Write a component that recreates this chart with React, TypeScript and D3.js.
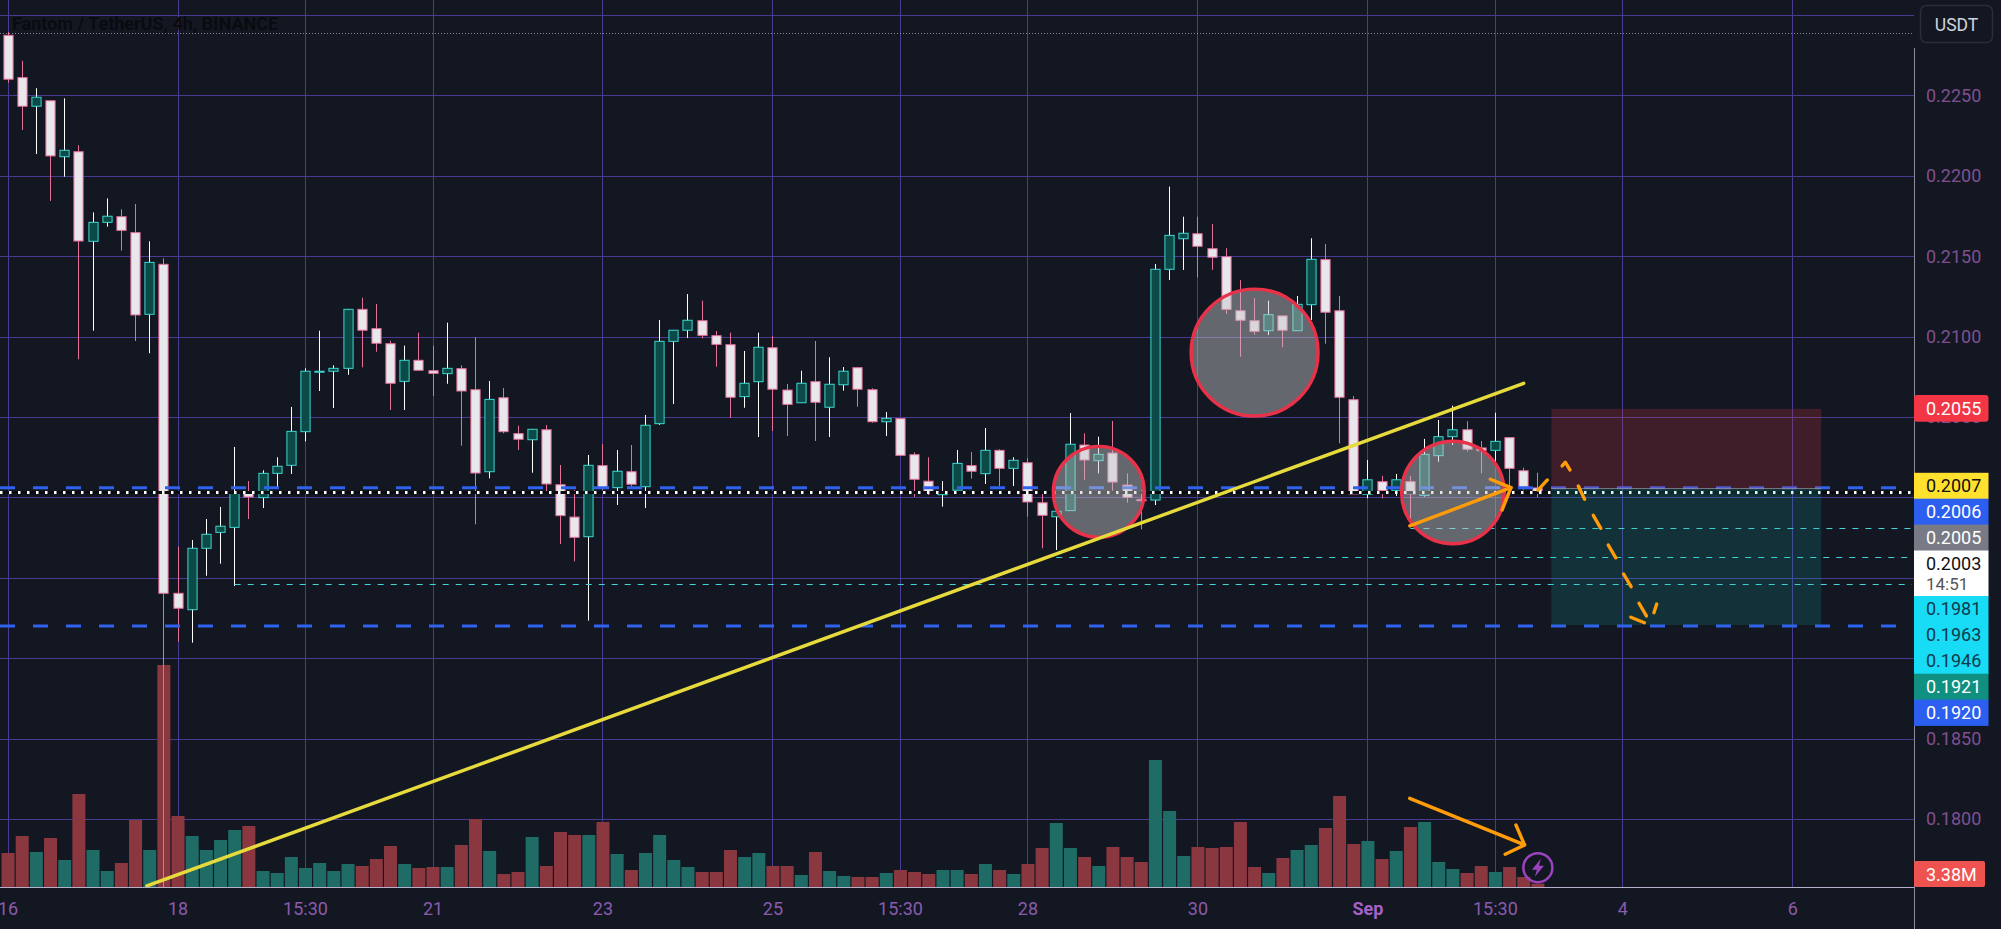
import React from 'react';
import * as d3 from 'd3';

// OHLC, one entry per 4h bar
const opens = [
  0.22873, 0.2261, 0.22432, 0.22466, 0.22118, 0.22149, 0.21592, 0.2171, 0.21745, 0.21646,
  0.21138, 0.21449, 0.19403, 0.19301, 0.19683, 0.19782, 0.19813, 0.20031, 0.19998, 0.20149,
  0.20199, 0.20408, 0.20779, 0.20784, 0.20802, 0.21169, 0.21049, 0.20955, 0.20721, 0.20852,
  0.20787, 0.20769, 0.208, 0.20669, 0.20159, 0.20619, 0.20396, 0.20358, 0.2042, 0.20078,
  0.19877, 0.19755, 0.20197, 0.2006, 0.20159, 0.20066, 0.20458, 0.2097, 0.21039, 0.21098,
  0.21005, 0.20949, 0.20626, 0.20719, 0.2093, 0.20667, 0.20588, 0.20719, 0.2056, 0.207,
  0.20806, 0.20669, 0.2047, 0.20489, 0.20265, 0.201, 0.20016, 0.20044, 0.20197, 0.20147,
  0.20292, 0.2018, 0.20215, 0.19966, 0.19879, 0.19917, 0.20325, 0.20228, 0.20275, 0.20076,
  0.19985, 0.19983, 0.21418, 0.21608, 0.21639, 0.21546, 0.21496, 0.2116, 0.21098, 0.21036,
  0.21128, 0.21036, 0.21198, 0.21478, 0.2116, 0.20607, 0.20019, 0.20097, 0.20041, 0.20097,
  0.20012, 0.20259, 0.20377, 0.2042, 0.20307, 0.20292, 0.20371, 0.20165, 0.20058,
];
const closes = [
  0.226, 0.22432, 0.22488, 0.22123, 0.22158, 0.21594, 0.2171, 0.21748, 0.2166, 0.21134,
  0.21461, 0.19403, 0.1931, 0.19683, 0.1977, 0.1982, 0.20031, 0.20002, 0.20149, 0.20193,
  0.2041, 0.20784, 0.20784, 0.20802, 0.21169, 0.21039, 0.20958, 0.20709, 0.20852, 0.2079,
  0.20771, 0.20802, 0.20661, 0.20151, 0.20609, 0.20408, 0.20361, 0.20423, 0.20083, 0.19886,
  0.19751, 0.20199, 0.2006, 0.20162, 0.20081, 0.20448, 0.2097, 0.21039, 0.21101, 0.21007,
  0.20951, 0.20622, 0.20709, 0.20933, 0.20672, 0.20578, 0.20709, 0.20591, 0.20703, 0.20784,
  0.20672, 0.2047, 0.20491, 0.20261, 0.20112, 0.20035, 0.20031, 0.20211, 0.20162, 0.20292,
  0.2018, 0.2023, 0.19971, 0.19888, 0.19913, 0.2033, 0.20232, 0.20267, 0.20095, 0.2,
  0.19981, 0.21418, 0.21629, 0.21642, 0.21561, 0.21493, 0.21169, 0.21101, 0.21032, 0.21136,
  0.21039, 0.212, 0.2148, 0.21151, 0.20622, 0.20021, 0.20109, 0.20041, 0.20109, 0.20021,
  0.20267, 0.20377, 0.2042, 0.20299, 0.2029, 0.20348, 0.2018, 0.20062, 0.20033,
];
const highs = [
  0.22894, 0.22715, 0.22544, 0.22466, 0.22481, 0.22189, 0.21772, 0.21859, 0.21791, 0.21824,
  0.21592, 0.21486, 0.19693, 0.19734, 0.19865, 0.1994, 0.20313, 0.20101, 0.20168, 0.20249,
  0.20562, 0.20802, 0.21036, 0.20821, 0.21169, 0.21241, 0.21202, 0.20974, 0.20943, 0.21024,
  0.20943, 0.21086, 0.20821, 0.20995, 0.20723, 0.2068, 0.20445, 0.20423, 0.2045, 0.20201,
  0.20045, 0.20263, 0.20331, 0.20294, 0.20325, 0.20512, 0.21103, 0.21039, 0.21264, 0.21223,
  0.21034, 0.21024, 0.2091, 0.21024, 0.21003, 0.20705, 0.20787, 0.20972, 0.20871, 0.2081,
  0.20806, 0.20678, 0.2053, 0.20489, 0.2028, 0.20249, 0.20101, 0.20294, 0.20282, 0.20431,
  0.20299, 0.20249, 0.20243, 0.20025, 0.19913, 0.20524, 0.20398, 0.20377, 0.20475, 0.20149,
  0.20045, 0.21451, 0.21932, 0.21745, 0.21745, 0.217, 0.21549, 0.21351, 0.21238, 0.21223,
  0.21128, 0.21252, 0.21611, 0.21575, 0.21252, 0.2063, 0.20232, 0.20134, 0.20145, 0.20132,
  0.20363, 0.20481, 0.2057, 0.20473, 0.2035, 0.20526, 0.20371, 0.20184, 0.20153,
];
const lows = [
  0.22577, 0.22284, 0.22135, 0.21843, 0.21994, 0.20858, 0.21036, 0.21683, 0.21534, 0.20972,
  0.20896, 0.17576, 0.19102, 0.19096, 0.19512, 0.19587, 0.19448, 0.19865, 0.19933, 0.20058,
  0.20145, 0.20348, 0.20661, 0.20555, 0.20762, 0.20808, 0.20905, 0.20543, 0.20543, 0.2079,
  0.2063, 0.20706, 0.20321, 0.19832, 0.20118, 0.20398, 0.20294, 0.20153, 0.20035, 0.1971,
  0.19602, 0.19233, 0.20045, 0.19952, 0.20066, 0.19933, 0.2045, 0.2058, 0.20991, 0.20989,
  0.20812, 0.20493, 0.20557, 0.20375, 0.20412, 0.20381, 0.20588, 0.2035, 0.20375, 0.20663,
  0.20563, 0.20464, 0.20381, 0.20261, 0.20002, 0.20014, 0.19942, 0.20044, 0.20116, 0.20083,
  0.2007, 0.2007, 0.19879, 0.19683, 0.19672, 0.19917, 0.20108, 0.20149, 0.20035, 0.19966,
  0.19801, 0.19952, 0.21351, 0.21414, 0.21368, 0.21414, 0.2114, 0.20874, 0.21011, 0.21009,
  0.20933, 0.21036, 0.21103, 0.20955, 0.20336, 0.20021, 0.19994, 0.19994, 0.20008, 0.19822,
  0.20004, 0.20221, 0.20325, 0.20284, 0.20149, 0.20215, 0.20045, 0.20045, 0.2,
];
// volume in millions
const volumes = [
  34, 51, 35, 49, 27, 93, 37, 16, 24, 67,
  37, 222, 71, 51, 37, 47, 57, 61, 16, 14,
  30, 19, 24, 16, 23, 21, 28, 41, 23, 19,
  20, 20, 42, 68, 36, 13, 15, 50, 21, 55,
  52, 52, 65, 33, 17, 34, 52, 27, 20, 15,
  15, 37, 30, 34, 21, 21, 12, 35, 16, 11,
  10, 10, 14, 17, 15, 13, 17, 17, 13, 23,
  17, 13, 23, 39, 64, 39, 30, 21, 40, 30,
  25, 127, 76, 31, 40, 39, 40, 65, 20, 14,
  29, 37, 42, 59, 91, 43, 46, 28, 36, 60,
  65, 25, 18, 14, 21, 15, 20, 10, 3.38,
];

const timeBars = [0, 12, 21, 30, 42, 54, 63, 72, 84, 96, 105, 114, 126];
const timeLabels = ['16', '18', '15:30', '21', '23', '25', '15:30', '28', '30', 'Sep', '15:30', '4', '6'];
const gridPrices = [0.23, 0.225, 0.22, 0.215, 0.21, 0.205, 0.2, 0.195, 0.19, 0.185, 0.18];
const axisPrices = [0.225, 0.22, 0.215, 0.21, 0.205, 0.185, 0.18];

const blueLevels = [0.2006, 0.192];
const cyanLevels = [0.1981, 0.1963, 0.1946];
const cyanStarts = [99, 74, 16];
const lastPrice = 0.2003;
const topDotted = 0.22887;

const circleBars = [77, 88, 102];
const circlePrices = [0.20034, 0.209, 0.2003];
const circleRadii = [3.21, 4.48, 3.62];

const trendLine: [number, number][] = [[9.8, 0.17583], [107, 0.20709]];
const arrowOne: [number, number][][] = [
  [[98.96, 0.19822], [106.1, 0.2006]],
  [[104.64, 0.20112], [106.1, 0.2006], [105.47, 0.19921]],
];
const arrowTwo: [number, number][][] = [
  [[98.95, 0.18128], [107.06, 0.17838]],
  [[106.45, 0.17962], [107.06, 0.17838], [105.69, 0.1778]],
];
const dashedPath: [number, number][][] = [
  [[108, 0.20045], [108.67, 0.20108]],
  [[109.71, 0.20195], [109.94, 0.20218], [110.26, 0.2017]],
  [[110.85, 0.2007], [111.3, 0.19988]],
  [[111.91, 0.19888], [112.44, 0.19807]],
  [[112.97, 0.19703], [113.5, 0.19624]],
  [[114.05, 0.19523], [114.58, 0.19444]],
  [[115.14, 0.19341], [115.66, 0.19262]],
  [[114.56, 0.19254], [115.52, 0.1922]],
  [[116.19, 0.19282], [116.39, 0.19336]],
];

const boxBars = [108.95, 128];
const boxPrices = [0.2055, 0.20055, 0.19206];

const stackLabels = ['0.2007', '0.2006', '0.2005', '0.2003', '0.1981', '0.1963', '0.1946', '0.1921', '0.1920'];
const stackFills = ['#ffe12e', '#2c5ff0', '#787b86', '#ffffff', '#18dcf5', '#18dcf5', '#18dcf5', '#0f9080', '#2c5ff0'];
const stackInks = ['#111', '#fff', '#fff', '#111', '#0d3a4c', '#0d3a4c', '#0d3a4c', '#fff', '#fff'];

const WIDTH = 2001;
const HEIGHT = 929;
const AXIS_X = 1914;
const AXIS_Y = 887;
const FONT = 'Roboto, sans-serif';

const x = d3.scaleLinear().domain([0, 108]).range([8.05, 1537.9]);
const y = d3.scaleLinear().domain([0.2, 0.225]).range([497.3, 95.3]);
const v = d3.scaleLinear().domain([0, 222]).range([AXIS_Y, 665]);

const lineGen = d3.line<[number, number]>().x(d => x(d[0])).y(d => y(d[1]));
const crisp = (n: number) => Math.round(n) + 0.5;
const crispX = (n: number) => Math.floor(n) + 0.5;

function App() {
  const pane = '#131722';
  const grid = '#4a3a92';
  const up = '#3cd6d0';
  const down = '#e4709a';
  const stackTop = 472.8;
  let stackY = stackTop;

  return (
    <svg width={WIDTH} height={HEIGHT} style={{ position: 'fixed', left: 0, top: 0, background: pane }} fontFamily={FONT}>
      <defs>
        <clipPath id="plot"><rect x={0} y={0} width={AXIS_X} height={AXIS_Y} /></clipPath>
      </defs>

      {gridPrices.map(p => (
        <line key={p} x1={0} x2={AXIS_X} y1={crisp(y(p))} y2={crisp(y(p))} stroke={grid} />
      ))}
      {timeBars.map(b => (
        <line key={b} x1={crispX(x(b))} x2={crispX(x(b))} y1={0} y2={AXIS_Y} stroke={grid} />
      ))}

      <line x1={0} x2={AXIS_X - 2} y1={crisp(y(topDotted))} y2={crisp(y(topDotted))} stroke="#8a8d96" strokeDasharray="1 2" />
      <text x={12} y={30} fontSize={18} fontWeight={700} fill="#090b10">Fantom / TetherUS, 4h, BINANCE</text>

      <g>
        {volumes.map((d, i) => (
          <rect
            key={i}
            x={x(i) - 6.5}
            y={v(d)}
            width={13}
            height={AXIS_Y - v(d)}
            fill={closes[i] >= opens[i] ? '#1f6b65' : '#8a3740'}
          />
        ))}
      </g>

      <g clipPath="url(#plot)">
        {opens.map((o, i) => {
          const rising = closes[i] >= o;
          const cx = crispX(x(i));
          const top = y(Math.max(o, closes[i]));
          const bottom = y(Math.min(o, closes[i]));
          return (
            <g key={i}>
              <line x1={cx} x2={cx} y1={y(highs[i])} y2={y(lows[i])} stroke={rising ? '#ffffff' : down} strokeWidth={1} />
              <rect
                x={cx - 4.6}
                y={top}
                width={9.2}
                height={Math.max(bottom - top, 1)}
                fill={rising ? '#0c4a47' : '#e8e8ec'}
                stroke={rising ? up : down}
                strokeWidth={1}
              />
            </g>
          );
        })}
      </g>

      {blueLevels.map(p => (
        <line key={p} x1={0} x2={AXIS_X} y1={y(p)} y2={y(p)} stroke="#2f62ee" strokeWidth={3} strokeDasharray="15 18" />
      ))}
      {cyanLevels.map((p, i) => (
        <line key={p} x1={x(cyanStarts[i])} x2={AXIS_X - 2} y1={crisp(y(p))} y2={crisp(y(p))} stroke="#45d3d6" strokeDasharray="6 7" />
      ))}
      <line x1={0} x2={AXIS_X} y1={y(lastPrice)} y2={y(lastPrice)} stroke="#0a0c12" strokeWidth={3} />
      <line x1={0} x2={AXIS_X} y1={y(lastPrice)} y2={y(lastPrice)} stroke="#ffffff" strokeWidth={3} strokeDasharray="2.5 6.5" />

      <rect x={x(boxBars[0])} y={y(boxPrices[0])} width={x(boxBars[1]) - x(boxBars[0])} height={y(boxPrices[1]) - y(boxPrices[0])} fill="#f23645" fillOpacity={0.2} />
      <rect x={x(boxBars[0])} y={y(boxPrices[1])} width={x(boxBars[1]) - x(boxBars[0])} height={y(boxPrices[2]) - y(boxPrices[1])} fill="#14b8b0" fillOpacity={0.16} />
      <line x1={x(boxBars[0])} x2={x(boxBars[1])} y1={y(boxPrices[1])} y2={y(boxPrices[1])} stroke="#8f8f94" strokeOpacity={0.8} />

      {circleBars.map((b, i) => (
        <circle
          key={b}
          cx={x(b)}
          cy={y(circlePrices[i])}
          r={x(circleRadii[i]) - x(0)}
          fill="#c6c6c8"
          fillOpacity={0.46}
          stroke="#e8324a"
          strokeWidth={3.4}
        />
      ))}

      <g clipPath="url(#plot)" fill="none" strokeLinecap="round" strokeLinejoin="round">
        <path d={lineGen(trendLine) || ''} stroke="#e6da3c" strokeWidth={3.4} />
        {[...arrowOne, ...arrowTwo, ...dashedPath].map((seg, i) => (
          <path key={i} d={lineGen(seg) || ''} stroke="#ff9c0a" strokeWidth={3.4} />
        ))}
      </g>

      <g transform={`translate(${x(108)},867.7)`}>
        <circle r={14.5} fill="none" stroke="#9a43bd" strokeWidth={2.5} />
        <path d="M3,-9 L-6,2 L-1,2 L-3,9 L6,-2 L1,-2 Z" fill="#9a43bd" />
      </g>

      <line x1={0} x2={AXIS_X} y1={AXIS_Y + 0.5} y2={AXIS_Y + 0.5} stroke="#b5b0c8" />
      <line x1={AXIS_X + 0.5} x2={AXIS_X + 0.5} y1={48} y2={HEIGHT} stroke="#8d8d99" />

      {timeBars.map((b, i) => (
        <text
          key={b}
          x={x(b)}
          y={914.5}
          textAnchor="middle"
          fontSize={18}
          fontWeight={timeLabels[i] === 'Sep' ? 700 : 400}
          fill={timeLabels[i] === 'Sep' ? '#a561c9' : '#8a5bab'}
        >
          {timeLabels[i]}
        </text>
      ))}

      {axisPrices.map(p => (
        <text key={p} x={1926} y={y(p) + 6.5} fontSize={18} fill="#7f4f91">{p.toFixed(4)}</text>
      ))}

      <rect x={1914} y={395} width={74.5} height={26.7} rx={3} fill="#f23645" />
      <text x={1926} y={414.5} fontSize={18} fill="#fff">0.2055</text>

      {stackLabels.map((label, i) => {
        const isLast = label === '0.2003';
        const h = isLast ? 45.5 : 25.9;
        const top = stackY;
        stackY += h;
        return (
          <g key={label}>
            <rect x={1914} y={top} width={74.5} height={h + 0.4} fill={stackFills[i]} />
            <text x={1926} y={top + 19} fontSize={18} fill={stackInks[i]}>{label}</text>
            {isLast && <text x={1926} y={top + 39} fontSize={17} fill="#555">14:51</text>}
          </g>
        );
      })}

      <rect x={1914} y={861} width={71} height={26} rx={2} fill="#ef5350" />
      <text x={1926} y={880.5} fontSize={18} fill="#fff">3.38M</text>

      <rect x={1920.5} y={5.5} width={72} height={37} rx={6} fill={pane} stroke="#2a2e39" strokeWidth={1.5} />
      <text x={1956.5} y={31} textAnchor="middle" fontSize={17.5} fill="#d1d4dc">USDT</text>
    </svg>
  );
}

export default App;
